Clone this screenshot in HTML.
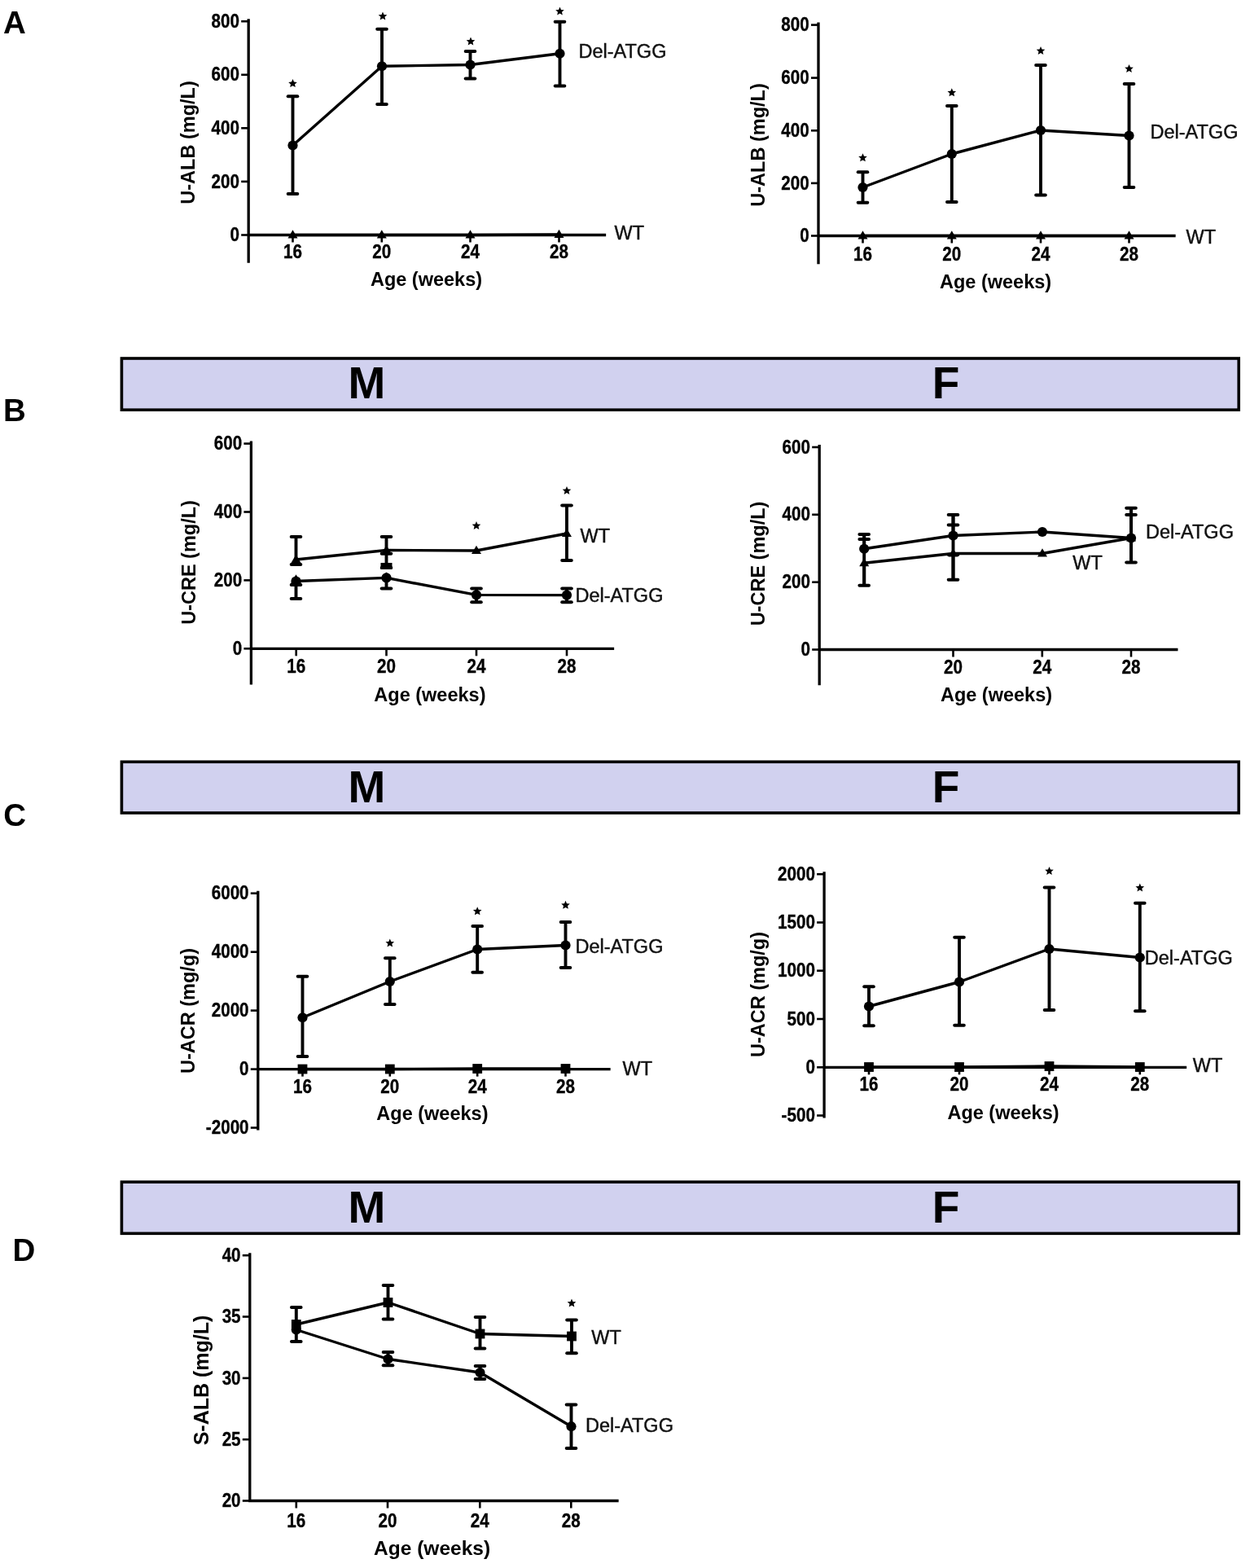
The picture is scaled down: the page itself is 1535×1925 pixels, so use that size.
<!DOCTYPE html><html><head><meta charset="utf-8"><title>Figure</title><style>
html,body{margin:0;padding:0;background:#fff;}
svg{display:block;font-family:"Liberation Sans", Arial, Helvetica, sans-serif;}
.ax{fill:none;stroke:#000;stroke-width:3.3;stroke-linecap:square;}
.tk{stroke:#000;stroke-width:2.6;}
.dl{fill:none;stroke:#000;stroke-width:3.4;stroke-linejoin:round;}
.eb{stroke:#000;stroke-width:3.9;}
.cap{stroke:#000;stroke-width:4;stroke-linecap:round;}
.tl{font-weight:bold;font-size:23.2px;fill:#000;stroke:#000;stroke-width:0.35px;}
.at{font-weight:bold;font-size:23.5px;fill:#000;}
.at2{font-weight:bold;font-size:24.5px;fill:#000;}
.at3{font-weight:bold;font-size:25px;fill:#000;}
.sl{font-size:23.5px;fill:#111;stroke:#111;stroke-width:0.45px;}
.pl{font-weight:bold;font-size:38.5px;fill:#000;}
.bl{font-weight:bold;font-size:55px;fill:#000;}
.st{fill:#000;}
</style></head><body>
<svg width="1535" height="1925" viewBox="0 0 1535 1925">
<rect width="1535" height="1925" fill="#fff"/>
<rect x="149.4" y="440.0" width="1371.8" height="63.2" fill="#d1d1ef" stroke="#000" stroke-width="3.6"/>
<text class="bl" x="450.5" y="488.9" text-anchor="middle">M</text>
<text class="bl" x="1161.5" y="488.9" text-anchor="middle">F</text>
<rect x="149.4" y="935.3" width="1371.8" height="62.7" fill="#d1d1ef" stroke="#000" stroke-width="3.6"/>
<text class="bl" x="450.5" y="985.0" text-anchor="middle">M</text>
<text class="bl" x="1161.5" y="985.0" text-anchor="middle">F</text>
<rect x="149.4" y="1451.1" width="1371.8" height="63.2" fill="#d1d1ef" stroke="#000" stroke-width="3.6"/>
<text class="bl" x="450.5" y="1501.3" text-anchor="middle">M</text>
<text class="bl" x="1161.5" y="1501.3" text-anchor="middle">F</text>
<text class="pl" x="4" y="41.3">A</text>
<text class="pl" x="4" y="516.5">B</text>
<text class="pl" x="4.2" y="1014.2">C</text>
<text class="pl" x="15.4" y="1547.5">D</text>
<path class="ax" d="M305.2,24.8 V321 M305.2,288.5 H742.5"/>
<line class="tk" x1="296.2" y1="26.2" x2="305.2" y2="26.2"/>
<text class="tl" transform="translate(294.0,33.8) scale(0.89,1)" text-anchor="end">800</text>
<line class="tk" x1="296.2" y1="91.8" x2="305.2" y2="91.8"/>
<text class="tl" transform="translate(294.0,99.4) scale(0.89,1)" text-anchor="end">600</text>
<line class="tk" x1="296.2" y1="157.3" x2="305.2" y2="157.3"/>
<text class="tl" transform="translate(294.0,164.9) scale(0.89,1)" text-anchor="end">400</text>
<line class="tk" x1="296.2" y1="222.9" x2="305.2" y2="222.9"/>
<text class="tl" transform="translate(294.0,230.5) scale(0.89,1)" text-anchor="end">200</text>
<line class="tk" x1="296.2" y1="288.5" x2="305.2" y2="288.5"/>
<text class="tl" transform="translate(294.0,296.1) scale(0.89,1)" text-anchor="end">0</text>
<line class="tk" x1="359.5" y1="288.5" x2="359.5" y2="297.5"/>
<text class="tl" transform="translate(359.5,317.0) scale(0.89,1)" text-anchor="middle">16</text>
<line class="tk" x1="468.8" y1="288.5" x2="468.8" y2="297.5"/>
<text class="tl" transform="translate(468.8,317.0) scale(0.89,1)" text-anchor="middle">20</text>
<line class="tk" x1="577.5" y1="288.5" x2="577.5" y2="297.5"/>
<text class="tl" transform="translate(577.5,317.0) scale(0.89,1)" text-anchor="middle">24</text>
<line class="tk" x1="686.5" y1="288.5" x2="686.5" y2="297.5"/>
<text class="tl" transform="translate(686.5,317.0) scale(0.89,1)" text-anchor="middle">28</text>
<text class="at" x="523.5" y="351.3" text-anchor="middle">Age (weeks)</text>
<text class="at" transform="translate(239,175) rotate(-90)" text-anchor="middle">U-ALB (mg/L)</text>
<polyline class="dl" points="359.5,178.5 469,81.3 577.5,79.5 687.5,65.8"/>
<polyline class="dl" points="359.5,288.5 468.8,288.5 577.5,288.5 686.5,288"/>
<line class="eb" x1="359.5" y1="118.2" x2="359.5" y2="238"/><line class="cap" x1="353.7" y1="118.2" x2="365.3" y2="118.2"/><line class="cap" x1="353.7" y1="238" x2="365.3" y2="238"/>
<line class="eb" x1="469" y1="35.8" x2="469" y2="128"/><line class="cap" x1="463.2" y1="35.8" x2="474.8" y2="35.8"/><line class="cap" x1="463.2" y1="128" x2="474.8" y2="128"/>
<line class="eb" x1="577.5" y1="63" x2="577.5" y2="96.5"/><line class="cap" x1="571.7" y1="63" x2="583.3" y2="63"/><line class="cap" x1="571.7" y1="96.5" x2="583.3" y2="96.5"/>
<line class="eb" x1="687.5" y1="26.8" x2="687.5" y2="105.5"/><line class="cap" x1="681.7" y1="26.8" x2="693.3" y2="26.8"/><line class="cap" x1="681.7" y1="105.5" x2="693.3" y2="105.5"/>
<circle cx="359.5" cy="178.5" r="6.1"/>
<circle cx="469" cy="81.3" r="6.1"/>
<circle cx="577.5" cy="79.5" r="6.1"/>
<circle cx="687.5" cy="65.8" r="6.1"/>
<polygon points="359.5,282.2 365.485,292.406 353.515,292.406"/>
<polygon points="468.8,282.2 474.785,292.406 462.815,292.406"/>
<polygon points="577.5,282.2 583.485,292.406 571.515,292.406"/>
<polygon points="686.5,281.7 692.485,291.906 680.515,291.906"/>
<polygon class="st" points="359.5,97.0 361.0,100.5 364.8,100.9 362.0,103.4 362.8,107.1 359.5,105.2 356.2,107.1 357.0,103.4 354.2,100.9 358.0,100.5"/>
<polygon class="st" points="470.0,14.4 471.5,17.9 475.3,18.3 472.5,20.8 473.3,24.5 470.0,22.6 466.7,24.5 467.5,20.8 464.7,18.3 468.5,17.9"/>
<polygon class="st" points="578.0,45.4 579.5,48.9 583.3,49.3 580.5,51.8 581.3,55.5 578.0,53.6 574.7,55.5 575.5,51.8 572.7,49.3 576.5,48.9"/>
<polygon class="st" points="687.5,8.4 689.0,11.9 692.8,12.3 690.0,14.8 690.8,18.5 687.5,16.6 684.2,18.5 685.0,14.8 682.2,12.3 686.0,11.9"/>
<text class="sl" x="710.5" y="70.8">Del-ATGG</text>
<text class="sl" x="754.5" y="293.8">WT</text>
<path class="ax" d="M1005,29.2 V322.5 M1005,289.5 H1442"/>
<line class="tk" x1="996" y1="30.6" x2="1005" y2="30.6"/>
<text class="tl" transform="translate(993.8,38.2) scale(0.89,1)" text-anchor="end">800</text>
<line class="tk" x1="996" y1="95.6" x2="1005" y2="95.6"/>
<text class="tl" transform="translate(993.8,103.2) scale(0.89,1)" text-anchor="end">600</text>
<line class="tk" x1="996" y1="160.3" x2="1005" y2="160.3"/>
<text class="tl" transform="translate(993.8,167.9) scale(0.89,1)" text-anchor="end">400</text>
<line class="tk" x1="996" y1="224.9" x2="1005" y2="224.9"/>
<text class="tl" transform="translate(993.8,232.5) scale(0.89,1)" text-anchor="end">200</text>
<line class="tk" x1="996" y1="289.5" x2="1005" y2="289.5"/>
<text class="tl" transform="translate(993.8,297.1) scale(0.89,1)" text-anchor="end">0</text>
<line class="tk" x1="1059.5" y1="289.5" x2="1059.5" y2="298.5"/>
<text class="tl" transform="translate(1059.5,319.5) scale(0.89,1)" text-anchor="middle">16</text>
<line class="tk" x1="1168.8" y1="289.5" x2="1168.8" y2="298.5"/>
<text class="tl" transform="translate(1168.8,319.5) scale(0.89,1)" text-anchor="middle">20</text>
<line class="tk" x1="1278" y1="289.5" x2="1278" y2="298.5"/>
<text class="tl" transform="translate(1278,319.5) scale(0.89,1)" text-anchor="middle">24</text>
<line class="tk" x1="1386.5" y1="289.5" x2="1386.5" y2="298.5"/>
<text class="tl" transform="translate(1386.5,319.5) scale(0.89,1)" text-anchor="middle">28</text>
<text class="at" x="1222.6" y="353.5" text-anchor="middle">Age (weeks)</text>
<text class="at" transform="translate(938.5,178) rotate(-90)" text-anchor="middle">U-ALB (mg/L)</text>
<polyline class="dl" points="1059.5,230 1168.8,189 1278,160 1386.5,166.5"/>
<polyline class="dl" points="1059.5,289.5 1168.8,289.5 1278,289.5 1386.5,289.5"/>
<line class="eb" x1="1059.5" y1="211.2" x2="1059.5" y2="248.8"/><line class="cap" x1="1053.7" y1="211.2" x2="1065.3" y2="211.2"/><line class="cap" x1="1053.7" y1="248.8" x2="1065.3" y2="248.8"/>
<line class="eb" x1="1168.8" y1="130" x2="1168.8" y2="248"/><line class="cap" x1="1163.0" y1="130" x2="1174.6" y2="130"/><line class="cap" x1="1163.0" y1="248" x2="1174.6" y2="248"/>
<line class="eb" x1="1278" y1="80" x2="1278" y2="239.5"/><line class="cap" x1="1272.2" y1="80" x2="1283.8" y2="80"/><line class="cap" x1="1272.2" y1="239.5" x2="1283.8" y2="239.5"/>
<line class="eb" x1="1386.5" y1="103" x2="1386.5" y2="230"/><line class="cap" x1="1380.7" y1="103" x2="1392.3" y2="103"/><line class="cap" x1="1380.7" y1="230" x2="1392.3" y2="230"/>
<circle cx="1059.5" cy="230" r="6.1"/>
<circle cx="1168.8" cy="189" r="6.1"/>
<circle cx="1278" cy="160" r="6.1"/>
<circle cx="1386.5" cy="166.5" r="6.1"/>
<polygon points="1059.5,283.2 1065.485,293.406 1053.515,293.406"/>
<polygon points="1168.8,283.2 1174.7849999999999,293.406 1162.815,293.406"/>
<polygon points="1278,283.2 1283.985,293.406 1272.015,293.406"/>
<polygon points="1386.5,283.2 1392.485,293.406 1380.515,293.406"/>
<polygon class="st" points="1059.5,188.2 1061.0,191.7 1064.8,192.1 1062.0,194.6 1062.8,198.3 1059.5,196.4 1056.2,198.3 1057.0,194.6 1054.2,192.1 1058.0,191.7"/>
<polygon class="st" points="1168.8,108.2 1170.3,111.7 1174.1,112.1 1171.3,114.6 1172.1,118.3 1168.8,116.4 1165.5,118.3 1166.3,114.6 1163.5,112.1 1167.3,111.7"/>
<polygon class="st" points="1278.0,56.9 1279.5,60.4 1283.3,60.8 1280.5,63.3 1281.3,67.0 1278.0,65.1 1274.7,67.0 1275.5,63.3 1272.7,60.8 1276.5,60.4"/>
<polygon class="st" points="1386.5,78.9 1388.0,82.4 1391.8,82.8 1389.0,85.3 1389.8,89.0 1386.5,87.1 1383.2,89.0 1384.0,85.3 1381.2,82.8 1385.0,82.4"/>
<text class="sl" x="1412.5" y="170">Del-ATGG</text>
<text class="sl" x="1456.5" y="298.8">WT</text>
<path class="ax" d="M308.4,543.2 V838.8 M308.4,796.3 H752.5"/>
<line class="tk" x1="299.4" y1="544.6" x2="308.4" y2="544.6"/>
<text class="tl" transform="translate(297.2,552.2) scale(0.89,1)" text-anchor="end">600</text>
<line class="tk" x1="299.4" y1="628.5" x2="308.4" y2="628.5"/>
<text class="tl" transform="translate(297.2,636.1) scale(0.89,1)" text-anchor="end">400</text>
<line class="tk" x1="299.4" y1="712.4" x2="308.4" y2="712.4"/>
<text class="tl" transform="translate(297.2,720.0) scale(0.89,1)" text-anchor="end">200</text>
<line class="tk" x1="299.4" y1="796.3" x2="308.4" y2="796.3"/>
<text class="tl" transform="translate(297.2,803.9) scale(0.89,1)" text-anchor="end">0</text>
<line class="tk" x1="363.7" y1="796.3" x2="363.7" y2="805.3"/>
<text class="tl" transform="translate(363.7,826.0) scale(0.89,1)" text-anchor="middle">16</text>
<line class="tk" x1="474.5" y1="796.3" x2="474.5" y2="805.3"/>
<text class="tl" transform="translate(474.5,826.0) scale(0.89,1)" text-anchor="middle">20</text>
<line class="tk" x1="585" y1="796.3" x2="585" y2="805.3"/>
<text class="tl" transform="translate(585,826.0) scale(0.89,1)" text-anchor="middle">24</text>
<line class="tk" x1="696" y1="796.3" x2="696" y2="805.3"/>
<text class="tl" transform="translate(696,826.0) scale(0.89,1)" text-anchor="middle">28</text>
<text class="at" x="527.9" y="861" text-anchor="middle">Age (weeks)</text>
<text class="at" transform="translate(240,690.5) rotate(-90)" text-anchor="middle">U-CRE (mg/L)</text>
<polyline class="dl" points="363.5,687 474.5,675.5 585,676 696,655"/>
<polyline class="dl" points="363.5,713.5 474.5,709.4 585,730.4 696,730.6"/>
<line class="eb" x1="363.5" y1="659" x2="363.5" y2="693"/><line class="cap" x1="357.7" y1="659" x2="369.3" y2="659"/><line class="cap" x1="357.7" y1="693" x2="369.3" y2="693"/>
<line class="eb" x1="474.5" y1="659" x2="474.5" y2="697"/><line class="cap" x1="468.7" y1="659" x2="480.3" y2="659"/><line class="cap" x1="468.7" y1="679.7" x2="480.3" y2="679.7"/><line class="cap" x1="468.7" y1="697" x2="480.3" y2="697"/>
<line class="eb" x1="696" y1="620.5" x2="696" y2="688"/><line class="cap" x1="690.2" y1="620.5" x2="701.8" y2="620.5"/><line class="cap" x1="690.2" y1="688" x2="701.8" y2="688"/>
<line class="eb" x1="363.5" y1="713.5" x2="363.5" y2="735"/><line class="cap" x1="357.7" y1="718" x2="369.3" y2="718"/><line class="cap" x1="357.7" y1="735" x2="369.3" y2="735"/>
<line class="eb" x1="474.5" y1="709.4" x2="474.5" y2="722.4"/><line class="cap" x1="468.7" y1="722.4" x2="480.3" y2="722.4"/>
<line class="eb" x1="585" y1="722.4" x2="585" y2="739.2"/><line class="cap" x1="579.2" y1="722.4" x2="590.8" y2="722.4"/><line class="cap" x1="579.2" y1="739.2" x2="590.8" y2="739.2"/>
<line class="eb" x1="696" y1="722.4" x2="696" y2="739.2"/><line class="cap" x1="690.2" y1="722.4" x2="701.8" y2="722.4"/><line class="cap" x1="690.2" y1="739.2" x2="701.8" y2="739.2"/>
<polygon points="363.5,680.7 369.485,690.906 357.515,690.906"/>
<polygon points="474.5,669.2 480.485,679.406 468.515,679.406"/>
<polygon points="585,669.7 590.985,679.906 579.015,679.906"/>
<polygon points="696,648.7 701.985,658.906 690.015,658.906"/>
<circle cx="363.5" cy="713.5" r="6.1"/>
<circle cx="474.5" cy="709.4" r="6.1"/>
<circle cx="585" cy="730.4" r="6.1"/>
<circle cx="696" cy="730.6" r="6.1"/>
<polygon points="363.5,705.255 370.38275,716.9919 356.61725,716.9919"/>
<polygon points="474.5,702.6 481.3,709.4 474.5,716.1999999999999 467.7,709.4"/>
<rect x="467.5" y="691" width="14" height="8"/>
<polygon class="st" points="585.0,639.9 586.5,643.4 590.3,643.8 587.5,646.3 588.3,650.0 585.0,648.1 581.7,650.0 582.5,646.3 579.7,643.8 583.5,643.4"/>
<polygon class="st" points="696.0,596.9 697.5,600.4 701.3,600.8 698.5,603.3 699.3,607.0 696.0,605.1 692.7,607.0 693.5,603.3 690.7,600.8 694.5,600.4"/>
<text class="sl" x="712.5" y="666.3">WT</text>
<text class="sl" x="706.5" y="739.3">Del-ATGG</text>
<path class="ax" d="M1006.2,547.6 V839.5 M1006.2,797.5 H1444.8"/>
<line class="tk" x1="997.2" y1="549" x2="1006.2" y2="549"/>
<text class="tl" transform="translate(995.0,556.6) scale(0.89,1)" text-anchor="end">600</text>
<line class="tk" x1="997.2" y1="631.8" x2="1006.2" y2="631.8"/>
<text class="tl" transform="translate(995.0,639.4) scale(0.89,1)" text-anchor="end">400</text>
<line class="tk" x1="997.2" y1="714.7" x2="1006.2" y2="714.7"/>
<text class="tl" transform="translate(995.0,722.3) scale(0.89,1)" text-anchor="end">200</text>
<line class="tk" x1="997.2" y1="797.5" x2="1006.2" y2="797.5"/>
<text class="tl" transform="translate(995.0,805.1) scale(0.89,1)" text-anchor="end">0</text>
<line class="tk" x1="1170.5" y1="797.5" x2="1170.5" y2="806.5"/>
<text class="tl" transform="translate(1170.5,826.8) scale(0.89,1)" text-anchor="middle">20</text>
<line class="tk" x1="1279.8" y1="797.5" x2="1279.8" y2="806.5"/>
<text class="tl" transform="translate(1279.8,826.8) scale(0.89,1)" text-anchor="middle">24</text>
<line class="tk" x1="1389" y1="797.5" x2="1389" y2="806.5"/>
<text class="tl" transform="translate(1389,826.8) scale(0.89,1)" text-anchor="middle">28</text>
<text class="at" x="1223.5" y="861" text-anchor="middle">Age (weeks)</text>
<text class="at" transform="translate(939,692) rotate(-90)" text-anchor="middle">U-CRE (mg/L)</text>
<polyline class="dl" points="1061.2,673.8 1170.5,657.5 1280,653 1389,660.5"/>
<polyline class="dl" points="1061.2,691.3 1170.5,679.5 1280,679.5 1389,660.5"/>
<line class="eb" x1="1061.2" y1="656" x2="1061.2" y2="673.8"/><line class="cap" x1="1055.4" y1="656" x2="1067.0" y2="656"/><line class="cap" x1="1055.4" y1="662" x2="1067.0" y2="662"/>
<line class="eb" x1="1170.5" y1="632" x2="1170.5" y2="657.5"/><line class="cap" x1="1164.7" y1="632" x2="1176.3" y2="632"/><line class="cap" x1="1164.7" y1="644.5" x2="1176.3" y2="644.5"/>
<line class="eb" x1="1389" y1="623.8" x2="1389" y2="660.5"/><line class="cap" x1="1383.2" y1="623.8" x2="1394.8" y2="623.8"/><line class="cap" x1="1383.2" y1="632" x2="1394.8" y2="632"/>
<line class="eb" x1="1061.2" y1="691.3" x2="1061.2" y2="718.8"/><line class="cap" x1="1055.4" y1="718.8" x2="1067.0" y2="718.8"/>
<line class="eb" x1="1170.5" y1="679.5" x2="1170.5" y2="711.8"/><line class="cap" x1="1164.7" y1="681" x2="1176.3" y2="681"/><line class="cap" x1="1164.7" y1="711.8" x2="1176.3" y2="711.8"/>
<line class="eb" x1="1389" y1="660.5" x2="1389" y2="690.5"/><line class="cap" x1="1383.2" y1="690.5" x2="1394.8" y2="690.5"/>
<line class="eb" x1="1061.2" y1="656" x2="1061.2" y2="718.8"/>
<line class="eb" x1="1170.5" y1="632" x2="1170.5" y2="711.8"/>
<line class="eb" x1="1389" y1="623.8" x2="1389" y2="690.5"/>
<circle cx="1061.2" cy="673.8" r="6.1"/>
<circle cx="1170.5" cy="657.5" r="6.1"/>
<circle cx="1280" cy="653" r="6.1"/>
<circle cx="1389" cy="660.5" r="6.1"/>
<polygon points="1061.2,685.0 1067.185,695.2059999999999 1055.2150000000001,695.2059999999999"/>
<polygon points="1170.5,673.2 1176.485,683.406 1164.515,683.406"/>
<polygon points="1280,673.2 1285.985,683.406 1274.015,683.406"/>
<polygon points="1389,654.2 1394.985,664.406 1383.015,664.406"/>
<text class="sl" x="1407" y="661.3">Del-ATGG</text>
<text class="sl" x="1317.3" y="698.8">WT</text>
<path class="ax" d="M316.8,1095.3 V1385.8 M316.8,1312.6 H748"/>
<line class="tk" x1="307.8" y1="1096.7" x2="316.8" y2="1096.7"/>
<text class="tl" transform="translate(305.6,1104.3) scale(0.89,1)" text-anchor="end">6000</text>
<line class="tk" x1="307.8" y1="1168.7" x2="316.8" y2="1168.7"/>
<text class="tl" transform="translate(305.6,1176.3) scale(0.89,1)" text-anchor="end">4000</text>
<line class="tk" x1="307.8" y1="1240.6" x2="316.8" y2="1240.6"/>
<text class="tl" transform="translate(305.6,1248.2) scale(0.89,1)" text-anchor="end">2000</text>
<line class="tk" x1="307.8" y1="1312.6" x2="316.8" y2="1312.6"/>
<text class="tl" transform="translate(305.6,1320.2) scale(0.89,1)" text-anchor="end">0</text>
<line class="tk" x1="307.8" y1="1384.5" x2="316.8" y2="1384.5"/>
<text class="tl" transform="translate(305.6,1392.1) scale(0.89,1)" text-anchor="end">-2000</text>
<line class="tk" x1="371.5" y1="1312.6" x2="371.5" y2="1321.6"/>
<text class="tl" transform="translate(371.5,1341.8) scale(0.89,1)" text-anchor="middle">16</text>
<line class="tk" x1="478.8" y1="1312.6" x2="478.8" y2="1321.6"/>
<text class="tl" transform="translate(478.8,1341.8) scale(0.89,1)" text-anchor="middle">20</text>
<line class="tk" x1="586.2" y1="1312.6" x2="586.2" y2="1321.6"/>
<text class="tl" transform="translate(586.2,1341.8) scale(0.89,1)" text-anchor="middle">24</text>
<line class="tk" x1="694.5" y1="1312.6" x2="694.5" y2="1321.6"/>
<text class="tl" transform="translate(694.5,1341.8) scale(0.89,1)" text-anchor="middle">28</text>
<text class="at" x="530.9" y="1374.5" text-anchor="middle">Age (weeks)</text>
<text class="at" transform="translate(238.5,1241) rotate(-90)" text-anchor="middle">U-ACR (mg/g)</text>
<polyline class="dl" points="371.5,1249.3 478.8,1205 586.2,1165.5 694.5,1160.5"/>
<polyline class="dl" points="371.5,1312.5 478.8,1312.5 586.2,1312 694.5,1312"/>
<line class="eb" x1="371.5" y1="1198.8" x2="371.5" y2="1297"/><line class="cap" x1="365.7" y1="1198.8" x2="377.3" y2="1198.8"/><line class="cap" x1="365.7" y1="1297" x2="377.3" y2="1297"/>
<line class="eb" x1="478.8" y1="1176.2" x2="478.8" y2="1233"/><line class="cap" x1="473.0" y1="1176.2" x2="484.6" y2="1176.2"/><line class="cap" x1="473.0" y1="1233" x2="484.6" y2="1233"/>
<line class="eb" x1="586.2" y1="1137" x2="586.2" y2="1193.8"/><line class="cap" x1="580.4000000000001" y1="1137" x2="592.0" y2="1137"/><line class="cap" x1="580.4000000000001" y1="1193.8" x2="592.0" y2="1193.8"/>
<line class="eb" x1="694.5" y1="1132" x2="694.5" y2="1188"/><line class="cap" x1="688.7" y1="1132" x2="700.3" y2="1132"/><line class="cap" x1="688.7" y1="1188" x2="700.3" y2="1188"/>
<circle cx="371.5" cy="1249.3" r="6.1"/>
<circle cx="478.8" cy="1205" r="6.1"/>
<circle cx="586.2" cy="1165.5" r="6.1"/>
<circle cx="694.5" cy="1160.5" r="6.1"/>
<rect x="365.6" y="1306.6" width="11.8" height="11.8"/>
<rect x="472.90000000000003" y="1306.6" width="11.8" height="11.8"/>
<rect x="580.3000000000001" y="1306.1" width="11.8" height="11.8"/>
<rect x="688.6" y="1306.1" width="11.8" height="11.8"/>
<polygon class="st" points="478.8,1152.4 480.3,1155.9 484.1,1156.3 481.3,1158.8 482.1,1162.5 478.8,1160.6 475.5,1162.5 476.3,1158.8 473.5,1156.3 477.3,1155.9"/>
<polygon class="st" points="586.2,1113.2 587.7,1116.7 591.5,1117.1 588.7,1119.6 589.5,1123.3 586.2,1121.4 582.9,1123.3 583.7,1119.6 580.9,1117.1 584.7,1116.7"/>
<polygon class="st" points="694.5,1105.7 696.0,1109.2 699.8,1109.6 697.0,1112.1 697.8,1115.8 694.5,1113.9 691.2,1115.8 692.0,1112.1 689.2,1109.6 693.0,1109.2"/>
<text class="sl" x="706.5" y="1170">Del-ATGG</text>
<text class="sl" x="764.5" y="1320">WT</text>
<path class="ax" d="M1012.1,1071.8 V1370.8 M1012.1,1310.3 H1455.5"/>
<line class="tk" x1="1003.1" y1="1073.2" x2="1012.1" y2="1073.2"/>
<text class="tl" transform="translate(1000.9,1080.8) scale(0.89,1)" text-anchor="end">2000</text>
<line class="tk" x1="1003.1" y1="1132.5" x2="1012.1" y2="1132.5"/>
<text class="tl" transform="translate(1000.9,1140.1) scale(0.89,1)" text-anchor="end">1500</text>
<line class="tk" x1="1003.1" y1="1191.7" x2="1012.1" y2="1191.7"/>
<text class="tl" transform="translate(1000.9,1199.3) scale(0.89,1)" text-anchor="end">1000</text>
<line class="tk" x1="1003.1" y1="1251" x2="1012.1" y2="1251"/>
<text class="tl" transform="translate(1000.9,1258.6) scale(0.89,1)" text-anchor="end">500</text>
<line class="tk" x1="1003.1" y1="1310.3" x2="1012.1" y2="1310.3"/>
<text class="tl" transform="translate(1000.9,1317.9) scale(0.89,1)" text-anchor="end">0</text>
<line class="tk" x1="1003.1" y1="1369.5" x2="1012.1" y2="1369.5"/>
<text class="tl" transform="translate(1000.9,1377.1) scale(0.89,1)" text-anchor="end">-500</text>
<line class="tk" x1="1067" y1="1310.3" x2="1067" y2="1319.3"/>
<text class="tl" transform="translate(1067,1339.3) scale(0.89,1)" text-anchor="middle">16</text>
<line class="tk" x1="1178" y1="1310.3" x2="1178" y2="1319.3"/>
<text class="tl" transform="translate(1178,1339.3) scale(0.89,1)" text-anchor="middle">20</text>
<line class="tk" x1="1288.5" y1="1310.3" x2="1288.5" y2="1319.3"/>
<text class="tl" transform="translate(1288.5,1339.3) scale(0.89,1)" text-anchor="middle">24</text>
<line class="tk" x1="1399.8" y1="1310.3" x2="1399.8" y2="1319.3"/>
<text class="tl" transform="translate(1399.8,1339.3) scale(0.89,1)" text-anchor="middle">28</text>
<text class="at" x="1232" y="1373.5" text-anchor="middle">Age (weeks)</text>
<text class="at" transform="translate(939,1221) rotate(-90)" text-anchor="middle">U-ACR (mg/g)</text>
<polyline class="dl" points="1067,1235.5 1178,1205.5 1288.5,1165 1399.8,1175.5"/>
<polyline class="dl" points="1067,1310 1178,1310 1288.5,1309 1399.8,1310"/>
<line class="eb" x1="1067" y1="1211.2" x2="1067" y2="1259.2"/><line class="cap" x1="1061.2" y1="1211.2" x2="1072.8" y2="1211.2"/><line class="cap" x1="1061.2" y1="1259.2" x2="1072.8" y2="1259.2"/>
<line class="eb" x1="1178" y1="1150.8" x2="1178" y2="1258.8"/><line class="cap" x1="1172.2" y1="1150.8" x2="1183.8" y2="1150.8"/><line class="cap" x1="1172.2" y1="1258.8" x2="1183.8" y2="1258.8"/>
<line class="eb" x1="1288.5" y1="1089.5" x2="1288.5" y2="1240"/><line class="cap" x1="1282.7" y1="1089.5" x2="1294.3" y2="1089.5"/><line class="cap" x1="1282.7" y1="1240" x2="1294.3" y2="1240"/>
<line class="eb" x1="1399.8" y1="1108.8" x2="1399.8" y2="1241.2"/><line class="cap" x1="1394.0" y1="1108.8" x2="1405.6" y2="1108.8"/><line class="cap" x1="1394.0" y1="1241.2" x2="1405.6" y2="1241.2"/>
<circle cx="1067" cy="1235.5" r="6.1"/>
<circle cx="1178" cy="1205.5" r="6.1"/>
<circle cx="1288.5" cy="1165" r="6.1"/>
<circle cx="1399.8" cy="1175.5" r="6.1"/>
<rect x="1061.1" y="1304.1" width="11.8" height="11.8"/>
<rect x="1172.1" y="1304.1" width="11.8" height="11.8"/>
<rect x="1282.6" y="1303.1" width="11.8" height="11.8"/>
<rect x="1393.8999999999999" y="1304.1" width="11.8" height="11.8"/>
<polygon class="st" points="1288.5,1063.9 1290.0,1067.4 1293.8,1067.8 1291.0,1070.3 1291.8,1074.0 1288.5,1072.1 1285.2,1074.0 1286.0,1070.3 1283.2,1067.8 1287.0,1067.4"/>
<polygon class="st" points="1399.8,1084.4 1401.3,1087.9 1405.1,1088.3 1402.3,1090.8 1403.1,1094.5 1399.8,1092.6 1396.5,1094.5 1397.3,1090.8 1394.5,1088.3 1398.3,1087.9"/>
<text class="sl" x="1405.8" y="1183.8">Del-ATGG</text>
<text class="sl" x="1464.8" y="1316.3">WT</text>
<path class="ax" d="M306.8,1539.8 V1842.5 M306.8,1842.5 H758"/>
<line class="tk" x1="297.8" y1="1541.2" x2="306.8" y2="1541.2"/>
<text class="tl" transform="translate(295.6,1548.8) scale(0.89,1)" text-anchor="end">40</text>
<line class="tk" x1="297.8" y1="1616.5" x2="306.8" y2="1616.5"/>
<text class="tl" transform="translate(295.6,1624.1) scale(0.89,1)" text-anchor="end">35</text>
<line class="tk" x1="297.8" y1="1691.9" x2="306.8" y2="1691.9"/>
<text class="tl" transform="translate(295.6,1699.5) scale(0.89,1)" text-anchor="end">30</text>
<line class="tk" x1="297.8" y1="1767.2" x2="306.8" y2="1767.2"/>
<text class="tl" transform="translate(295.6,1774.8) scale(0.89,1)" text-anchor="end">25</text>
<line class="tk" x1="297.8" y1="1842.5" x2="306.8" y2="1842.5"/>
<text class="tl" transform="translate(295.6,1850.1) scale(0.89,1)" text-anchor="end">20</text>
<line class="tk" x1="363.8" y1="1842.5" x2="363.8" y2="1851.5"/>
<text class="tl" transform="translate(363.8,1875.0) scale(0.89,1)" text-anchor="middle">16</text>
<line class="tk" x1="476" y1="1842.5" x2="476" y2="1851.5"/>
<text class="tl" transform="translate(476,1875.0) scale(0.89,1)" text-anchor="middle">20</text>
<line class="tk" x1="589.3" y1="1842.5" x2="589.3" y2="1851.5"/>
<text class="tl" transform="translate(589.3,1875.0) scale(0.89,1)" text-anchor="middle">24</text>
<line class="tk" x1="701.3" y1="1842.5" x2="701.3" y2="1851.5"/>
<text class="tl" transform="translate(701.3,1875.0) scale(0.89,1)" text-anchor="middle">28</text>
<text class="at2" x="530.6" y="1908.8" text-anchor="middle">Age (weeks)</text>
<text class="at3" transform="translate(256,1694.5) rotate(-90)" text-anchor="middle">S-ALB (mg/L)</text>
<polyline class="dl" points="363.8,1626 476.5,1599 589.5,1637.5 702,1640.5"/>
<polyline class="dl" points="363.8,1632.5 476.5,1668.5 589.5,1685 701.5,1751.2"/>
<line class="eb" x1="363.8" y1="1605" x2="363.8" y2="1626"/><line class="cap" x1="358.0" y1="1605" x2="369.6" y2="1605"/>
<line class="eb" x1="476.5" y1="1578" x2="476.5" y2="1619.5"/><line class="cap" x1="470.7" y1="1578" x2="482.3" y2="1578"/><line class="cap" x1="470.7" y1="1619.5" x2="482.3" y2="1619.5"/>
<line class="eb" x1="589.5" y1="1617" x2="589.5" y2="1655.5"/><line class="cap" x1="583.7" y1="1617" x2="595.3" y2="1617"/><line class="cap" x1="583.7" y1="1655.5" x2="595.3" y2="1655.5"/>
<line class="eb" x1="702" y1="1620.5" x2="702" y2="1661.2"/><line class="cap" x1="696.2" y1="1620.5" x2="707.8" y2="1620.5"/><line class="cap" x1="696.2" y1="1661.2" x2="707.8" y2="1661.2"/>
<line class="eb" x1="363.8" y1="1632.5" x2="363.8" y2="1647"/><line class="cap" x1="358.0" y1="1647" x2="369.6" y2="1647"/>
<line class="eb" x1="476.5" y1="1660" x2="476.5" y2="1676.2"/><line class="cap" x1="470.7" y1="1660" x2="482.3" y2="1660"/><line class="cap" x1="470.7" y1="1676.2" x2="482.3" y2="1676.2"/>
<line class="eb" x1="589.5" y1="1677" x2="589.5" y2="1693"/><line class="cap" x1="583.7" y1="1677" x2="595.3" y2="1677"/><line class="cap" x1="583.7" y1="1693" x2="595.3" y2="1693"/>
<line class="eb" x1="701.5" y1="1724.5" x2="701.5" y2="1778"/><line class="cap" x1="695.7" y1="1724.5" x2="707.3" y2="1724.5"/><line class="cap" x1="695.7" y1="1778" x2="707.3" y2="1778"/>
<rect x="357.90000000000003" y="1620.1" width="11.8" height="11.8"/>
<rect x="470.6" y="1593.1" width="11.8" height="11.8"/>
<rect x="583.6" y="1631.6" width="11.8" height="11.8"/>
<rect x="696.1" y="1634.6" width="11.8" height="11.8"/>
<circle cx="363.8" cy="1632.5" r="6.1"/>
<circle cx="476.5" cy="1668.5" r="6.1"/>
<circle cx="589.5" cy="1685" r="6.1"/>
<circle cx="701.5" cy="1751.2" r="6.1"/>
<polygon class="st" points="702.0,1594.4 703.5,1597.9 707.3,1598.3 704.5,1600.8 705.3,1604.5 702.0,1602.6 698.7,1604.5 699.5,1600.8 696.7,1598.3 700.5,1597.9"/>
<text class="sl" x="726.3" y="1650">WT</text>
<text class="sl" x="719" y="1757.5">Del-ATGG</text>
</svg></body></html>
